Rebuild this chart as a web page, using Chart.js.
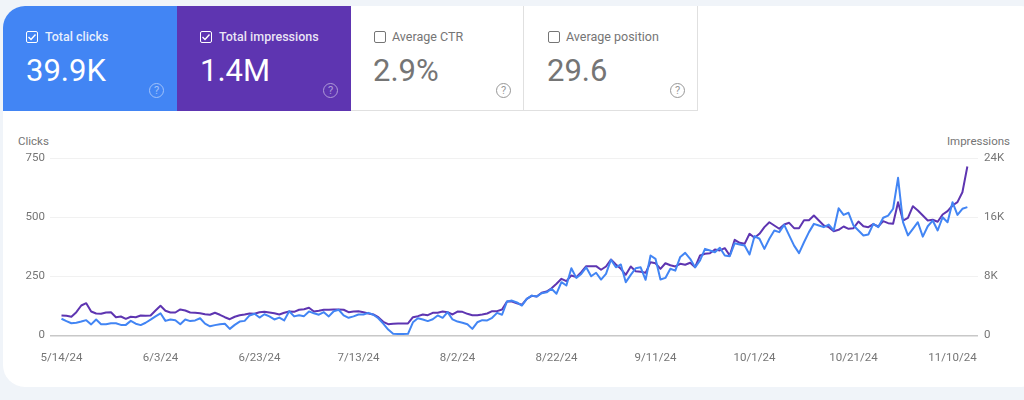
<!DOCTYPE html>
<html lang="en">
<head>
<meta charset="UTF-8">
<title>Search performance</title>
<script src="https://cdn.jsdelivr.net/npm/chart.js"></script>
<style>
  html, body { margin: 0; padding: 0; width: 1024px; height: 400px; overflow: hidden; background: #f0f4f9; font-family: Roboto, sans-serif; }
  #panel { position: absolute; left: 3px; top: 6px; width: 1040px; height: 381px; background: #fff; border-radius: 22px; }
  .card { position: absolute; top: 6px; height: 105px; box-sizing: border-box; color: #757575; }
  .card.on { color: #fff; }
  .card.off { background: #fff; border-right: 1px solid #e0e0e0; border-bottom: 1px solid #e0e0e0; }
  #c1 { left: 3px; width: 174px; background: #4285f4; border-top-left-radius: 22px; }
  #c2 { left: 177px; width: 174px; background: #5e35b1; }
  #c3 { left: 351px; width: 173px; }
  #c4 { left: 524px; width: 174px; }
  .box { position: absolute; top: 25px; width: 12px; height: 12px; border: 1px solid currentColor; border-radius: 2px; box-sizing: border-box; }
  .box svg { position: absolute; left: -1px; top: -1px; }
  .name { position: absolute; top: 22px; font-size: 12.5px; line-height: 17px; white-space: nowrap; }
  .on .name { font-weight: 500; color: rgba(255,255,255,.88); }
  .num { position: absolute; top: 45px; font-size: 31px; line-height: 40px; white-space: nowrap; }
  .help { position: absolute; top: 77px; width: 15px; height: 15px; border: 1px solid currentColor; border-radius: 50%; box-sizing: border-box; font-size: 11px; line-height: 13px; text-align: center; opacity: .75; }
  .on .help { opacity: .5; }
  .axis-name { position: absolute; top: 134px; font-size: 11.5px; line-height: 15px; color: #757575; }
  #chart { position: absolute; left: 0; top: 131px; }
</style>
</head>
<body>
<div id="panel"></div>
<div class="card on" id="c1">
  <div class="box" style="left:23px"><svg width="12" height="12" viewBox="0 0 12 12"><path d="M2.5 6l2.5 2.5 4.5-5" fill="none" stroke="#fff" stroke-width="1.4"/></svg></div>
  <div class="name" style="left:42px">Total clicks</div>
  <div class="num" style="left:23px">39.9K</div>
  <div class="help" style="left:146px">?</div>
</div>
<div class="card on" id="c2">
  <div class="box" style="left:23px"><svg width="12" height="12" viewBox="0 0 12 12"><path d="M2.5 6l2.5 2.5 4.5-5" fill="none" stroke="#fff" stroke-width="1.4"/></svg></div>
  <div class="name" style="left:42px">Total impressions</div>
  <div class="num" style="left:23px">1.4M</div>
  <div class="help" style="left:146px">?</div>
</div>
<div class="card off" id="c3">
  <div class="box" style="left:23px"></div>
  <div class="name" style="left:41px">Average CTR</div>
  <div class="num" style="left:22px">2.9%</div>
  <div class="help" style="left:145px">?</div>
</div>
<div class="card off" id="c4">
  <div class="box" style="left:24px"></div>
  <div class="name" style="left:42px">Average position</div>
  <div class="num" style="left:23px">29.6</div>
  <div class="help" style="left:146px">?</div>
</div>
<div class="axis-name" style="left:18px">Clicks</div>
<div class="axis-name" style="right:14px">Impressions</div>
<canvas id="chart" width="1024" height="240"></canvas>

<script>
// Values, one per day
const clicks = [
  71,61,52,54,59,65,47,68,48,48,52,52,45,45,62,50,44,54,67,81,94,62,68,65,48,68,61,64,73,50,
  39,44,48,50,28,45,59,62,85,92,76,90,81,68,76,64,103,81,86,82,102,94,88,99,81,103,109,85,75,81,
  89,89,96,88,73,50,25,7,6,6,7,56,73,68,61,69,85,75,99,68,59,54,48,28,56,65,64,75,96,88,
  144,148,140,127,155,169,165,179,183,198,177,226,212,285,244,261,289,251,266,237,261,321,289,301,226,257,285,289,236,339,
  325,237,244,283,275,333,350,325,289,318,367,360,353,372,339,336,391,386,381,343,421,410,367,410,445,438,469,424,381,349,
  395,438,473,466,459,470,445,539,511,520,466,445,424,428,473,459,499,508,537,668,480,424,452,480,419,463,487,445,501,480,
  565,511,537,544
];
const impressions = [
  2710,2670,2540,3160,4070,4380,3250,2980,2940,3120,3160,2480,2580,2260,2540,2480,2710,2670,2710,3390,
  4030,3350,3120,3120,3530,3390,3120,3080,3020,2890,2810,3080,2810,2480,2210,2540,2750,2850,2980,2940,
  3160,3210,3120,3020,2850,3080,3250,3210,3490,3570,3760,3250,3350,3490,3490,3530,3530,3490,3160,3250,
  3300,3160,2980,2850,2480,1860,1530,1590,1630,1630,1630,2480,2620,2850,2750,3080,3080,3250,3160,2850,
  3250,3210,2940,2750,2750,2850,2980,3300,3300,3530,4610,4610,4380,4160,4980,5380,5290,5790,5970,6410,
  7010,7690,7360,8140,7910,8580,9400,9400,9400,8910,9360,10310,9630,9040,8230,9360,8720,8640,8500,9940,
  9800,9040,9800,9530,9360,9720,9590,9860,9260,10850,11080,11160,11660,11530,11840,10850,12980,12570,12430,13790,
  13250,13790,14690,15360,14920,14470,15050,15280,14550,14550,15630,15630,16270,15590,14920,14690,14140,14330,14780,14470,
  14550,15460,14820,14690,15090,14780,15500,15230,15150,18080,15590,15960,17530,16950,16270,15590,15690,15420,16410,16860,
  17630,18080,19430,22920
];
const dateTicks = ["5/14/24","6/3/24","6/23/24","7/13/24","8/2/24","8/22/24","9/11/24","10/1/24","10/21/24","11/10/24"];
const clickTicks = [0, 250, 500, 750];
const impressionTicks = [0, 8000, 16000, 24000];
const impressionTickLabels = ["0", "8K", "16K", "24K"];
const daysPerTick = 20;

const tickFont = { family: "Roboto", size: 11.5 };
const tickColor = "#757575";

new Chart(document.getElementById("chart"), {
  type: "line",
  data: {
    datasets: [
      { label: "Clicks", yAxisID: "y", order: 1, borderColor: "#4285f4", borderWidth: 2, borderJoinStyle: "round",
        data: clicks.map((v, i) => ({ x: i, y: v })) },
      { label: "Impressions", yAxisID: "y2", order: 2, borderColor: "#5e35b1", borderWidth: 2, borderJoinStyle: "round",
        data: impressions.map((v, i) => ({ x: i, y: v })) }
    ]
  },
  options: {
    responsive: false,
    animation: false,
    layout: { padding: { top: 27.5 } },
    elements: { point: { radius: 0 }, line: { tension: 0 } },
    plugins: { legend: { display: false }, tooltip: { enabled: false } },
    scales: {
      x: {
        type: "linear",
        min: -2.32,
        max: 185.15,
        grid: { display: false },
        border: { display: false },
        afterBuildTicks: axis => { axis.ticks = dateTicks.map((d, i) => ({ value: i * daysPerTick })); },
        afterFit: axis => { axis.height = 35.5; },
        ticks: {
          autoSkip: false,
          maxRotation: 0,
          padding: 8,
          font: tickFont,
          color: tickColor,
          callback: v => dateTicks[v / daysPerTick]
        }
      },
      y: {
        position: "left",
        min: 0,
        max: 750,
        border: { display: false },
        grid: {
          drawTicks: false,
          color: c => c.tick.value === 0 ? "#c8c8c8" : "#f1f1f1",
          lineWidth: c => c.tick.value === 0 ? 1.5 : 1
        },
        afterBuildTicks: axis => { axis.ticks = clickTicks.map(v => ({ value: v })); },
        afterFit: axis => { axis.width = 50; },
        ticks: { padding: 5, font: tickFont, color: tickColor }
      },
      y2: {
        position: "right",
        min: 0,
        max: 24000,
        border: { display: false },
        grid: { display: false, drawTicks: false },
        afterBuildTicks: axis => { axis.ticks = impressionTicks.map(v => ({ value: v })); },
        afterFit: axis => { axis.width = 46; },
        ticks: {
          padding: 6,
          font: tickFont,
          color: tickColor,
          callback: v => impressionTickLabels[impressionTicks.indexOf(v)]
        }
      }
    }
  }
});
</script>
</body>
</html>
